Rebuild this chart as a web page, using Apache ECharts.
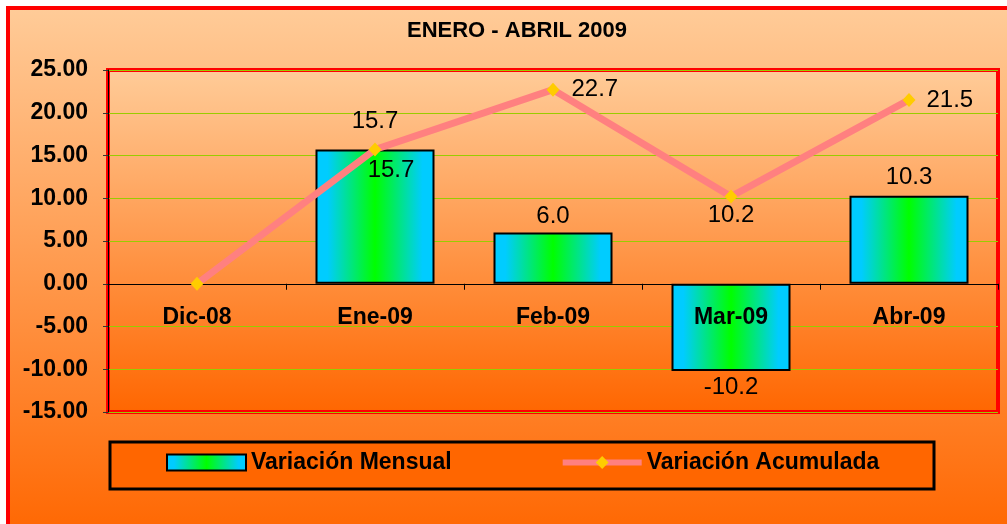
<!DOCTYPE html>
<html>
<head>
<meta charset="utf-8">
<script src="https://cdn.jsdelivr.net/npm/echarts@6/dist/echarts.min.js"></script>
<style>
html,body{margin:0;padding:0;background:#fff;}
#c{width:1007px;height:524px;}
</style>
</head>
<body>
<div id="c"></div>
<script>
const title = 'ENERO - ABRIL 2009';
const categories = ['Dic-08', 'Ene-09', 'Feb-09', 'Mar-09', 'Abr-09'];
const mensual = [null, 15.7, 6.0, -10.2, 10.3];
const acumulada = [0, 15.7, 22.7, 10.2, 21.5];
const seriesNames = ['Variación Mensual', 'Variación Acumulada'];
const yMin = -15, yMax = 25, yStep = 5;

// label placement per point (styling only)
const barLabelPos = [null, ['top', 16], ['top', 4], ['bottom', 4], ['top', 6]];
const lineLabelPos = [null, ['bottom', 2, [16, 0]], ['right', 12, [0, 0]], ['bottom', 0, [0, 0]], ['right', 11, [0, 0]]];

const FONT = 'Arial, "Liberation Sans", sans-serif';
const labelFont = {fontFamily: FONT, fontSize: 24, color: '#000'};

const barData = mensual.map((v, i) => {
  if (v === null) return {value: null};
  const p = barLabelPos[i];
  return {value: v, label: {show: true, position: p[0], distance: p[1]}};
});
const lineData = acumulada.map((v, i) => {
  const p = lineLabelPos[i];
  if (!p) return {value: v, label: {show: false}};
  return {value: v, label: {show: true, position: p[0], distance: p[1], offset: p[2]}};
});

const barGrad = new echarts.graphic.LinearGradient(0, 0, 1, 0, [
  {offset: 0, color: '#00CCFF'},
  {offset: 0.1, color: '#00CCFF'},
  {offset: 0.5, color: '#00FF00'},
  {offset: 0.9, color: '#00CCFF'},
  {offset: 1, color: '#00CCFF'}
]);

// grid geometry
const gridTop = 70, gridBottomPx = 412;
const plotH = gridBottomPx - gridTop;
// shift x-axis from grid bottom up to the value-0 line
const zeroOffset = -plotH * (0 - yMin) / (yMax - yMin);

const chart = echarts.init(document.getElementById('c'), null, {renderer: 'canvas'});
chart.setOption({
  animation: false,
  backgroundColor: '#ffffff',
  textStyle: {fontFamily: FONT},
  graphic: [
    {
      type: 'rect', z: -10, silent: true,
      shape: {x: 8, y: 8, width: 1010, height: 530},
      style: {
        fill: new echarts.graphic.LinearGradient(0, 0, 0, 1, [
          {offset: 0, color: '#FFCC99'},
          {offset: 1, color: '#FF6600'}
        ]),
        stroke: '#FF0000', lineWidth: 4
      }
    },
    {
      type: 'rect', z: -5, silent: true,
      shape: {x: 110, y: 442, width: 824, height: 47},
      style: {fill: '#FF6600', stroke: '#000', lineWidth: 3}
    }
  ],
  title: {
    text: title,
    left: 517, top: 20, textAlign: 'center', padding: 0,
    textStyle: {fontFamily: FONT, fontSize: 22, fontWeight: 'bold', color: '#000'}
  },
  legend: {
    left: 161, top: 446,
    itemWidth: 79, itemHeight: 16, itemGap: 108,
    lineStyle: {width: 6},
    textStyle: {fontFamily: FONT, fontSize: 23, fontWeight: 'bold', color: '#000'},
    data: [
      {name: seriesNames[0], icon: 'rect'},
      {name: seriesNames[1]}
    ]
  },
  grid: {
    left: 108, right: 9, top: gridTop, bottom: 524 - gridBottomPx,
    show: true,
    borderColor: '#FF0000', borderWidth: 4,
    backgroundColor: new echarts.graphic.LinearGradient(0, 0, 0, 1, [
      {offset: 0, color: '#FFCC99'},
      {offset: 1, color: '#FF6600'}
    ])
  },
  xAxis: {
    type: 'category',
    data: categories,
    position: 'bottom',
    offset: zeroOffset,
    axisLine: {onZero: false, lineStyle: {color: '#000', width: 1}},
    axisTick: {show: true, length: 6, lineStyle: {color: '#000'}},
    axisLabel: {margin: 22, fontFamily: FONT, fontSize: 23, fontWeight: 'bold', color: '#000'},
    z: 5
  },
  yAxis: {
    type: 'value',
    min: yMin, max: yMax, interval: yStep,
    axisLine: {show: true, lineStyle: {color: '#000', width: 1}},
    axisTick: {show: true, length: 5, lineStyle: {color: '#333'}},
    axisLabel: {
      margin: 20,
      formatter: v => v.toFixed(2),
      fontFamily: FONT, fontSize: 23, fontWeight: 'bold', color: '#000'
    },
    splitLine: {show: true, lineStyle: {color: '#99CC00', width: 1}}
  },
  series: [
    {
      name: seriesNames[0],
      type: 'bar',
      data: barData,
      barWidth: 119,
      itemStyle: {color: barGrad, borderColor: '#000', borderWidth: 2},
      label: Object.assign({formatter: p => Number(p.value).toFixed(1)}, labelFont),
      z: 3
    },
    {
      name: seriesNames[1],
      type: 'line',
      data: lineData,
      symbol: 'diamond',
      symbolSize: [13, 14],
      lineStyle: {color: '#FF8080', width: 7},
      itemStyle: {color: '#FFCC00', borderWidth: 0},
      label: Object.assign({formatter: p => Number(p.value).toFixed(1)}, labelFont),
      z: 6
    }
  ]
});
</script>
</body>
</html>
